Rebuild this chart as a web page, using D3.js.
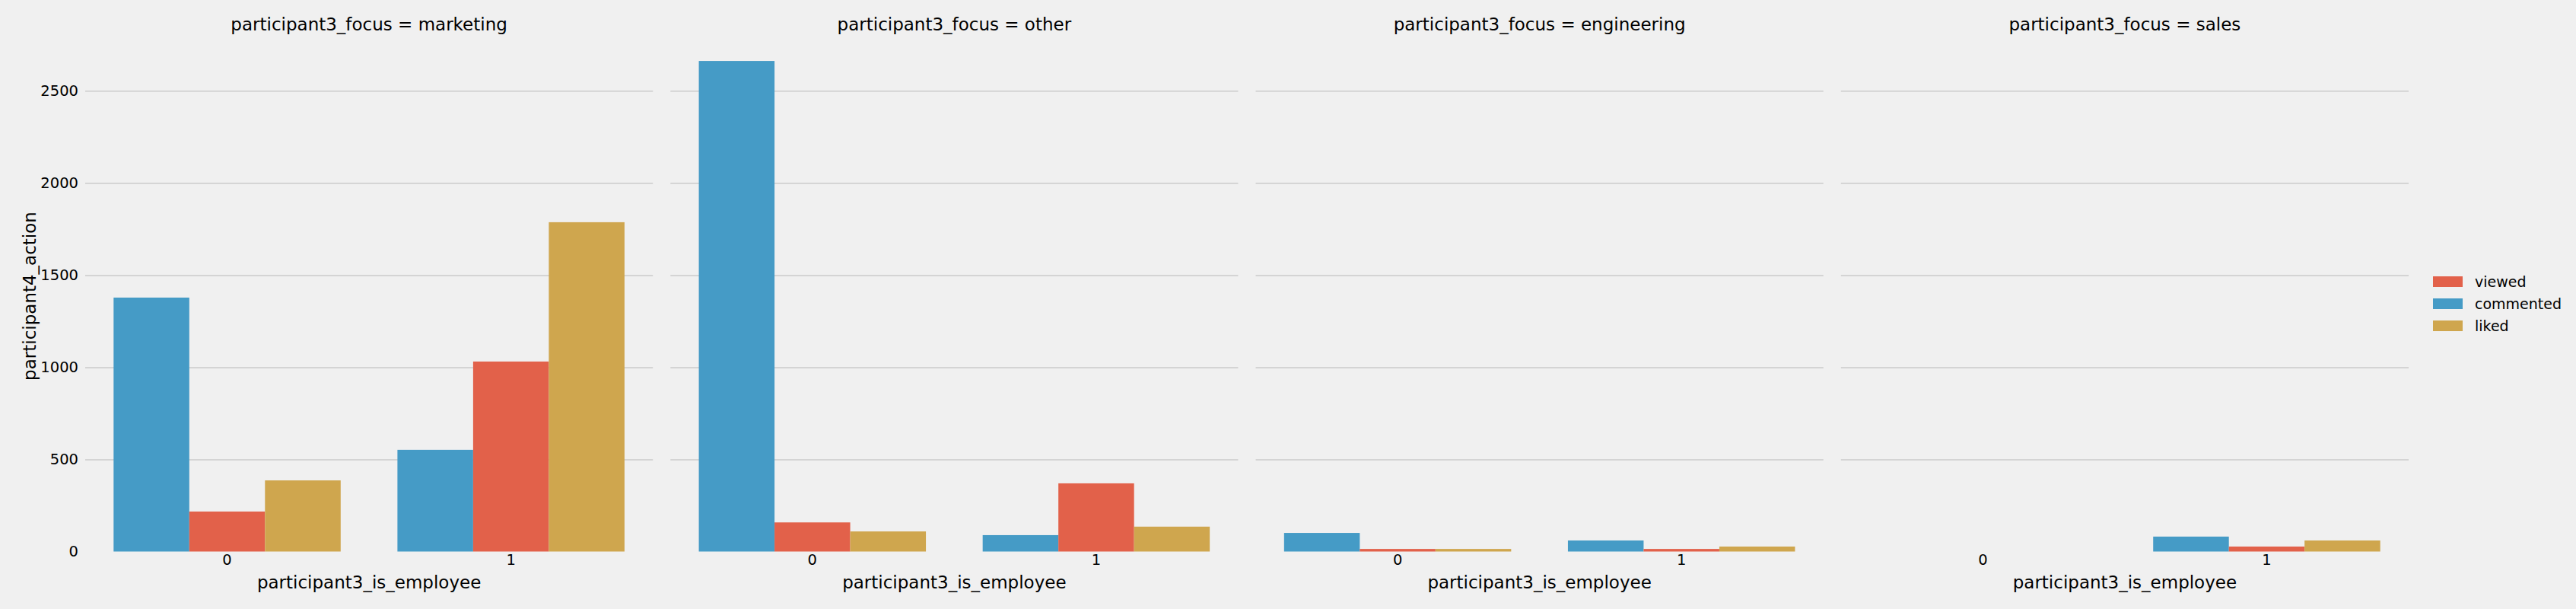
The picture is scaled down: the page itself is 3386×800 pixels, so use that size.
<!DOCTYPE html>
<html>
<head>
<meta charset="utf-8">
<script src="https://cdn.jsdelivr.net/npm/d3@7"></script>
<style>
  html, body { margin: 0; padding: 0; background: #f0f0f0; }
  svg { display: block; font-family: "DejaVu Sans", sans-serif; }
</style>
</head>
<body>
<div id="chart"></div>
<script>
// facets, categories and hue levels
const facets = ['marketing', 'other', 'engineering', 'sales'];
const employeeCats = ['0', '1'];
const barOrder = ['commented', 'viewed', 'liked'];
const legendOrder = ['viewed', 'commented', 'liked'];
const yTicks = [500, 1000, 1500, 2000, 2500];

// values per facet, [is_employee=0, is_employee=1]; null = no bar
const commented = { marketing: [1378, 552], other: [2662, 89], engineering: [101, 60], sales: [null, 81] };
const viewed    = { marketing: [217, 1031], other: [158, 370], engineering: [14, 14], sales: [null, 27] };
const liked     = { marketing: [386, 1787], other: [109, 135], engineering: [14, 27], sales: [null, 60] };

const series = { commented, viewed, liked };
const colors = { viewed: '#e2614a', commented: '#459bc6', liked: '#cfa64e' };

const W = 3386, H = 800;
const svg = d3.select('#chart').append('svg').attr('width', W).attr('height', H);
svg.append('rect').attr('width', W).attr('height', H).attr('fill', '#f0f0f0');

const fx = d3.scaleBand().domain(facets).range([112, 3166]).paddingInner(0.03).paddingOuter(0);
const pw = fx.bandwidth();
const y = d3.scaleLinear().domain([0, 2500]).range([724.5, 119.3]);
const x = d3.scaleBand().domain(employeeCats).range([0, pw]).padding(0);
const hx = d3.scaleBand().domain(barOrder).range([x.bandwidth() * 0.1, x.bandwidth() * 0.9]);

facets.forEach((f, i) => {
  const g = svg.append('g').attr('transform', `translate(${fx(f)},0)`);

  // grid
  const grid = g.append('g').call(d3.axisLeft(y).tickValues(yTicks).tickSize(-pw).tickFormat(''));
  grid.select('.domain').remove();
  grid.selectAll('line').attr('stroke', '#cbcbcb').attr('stroke-width', 1.5);

  // y tick labels on first panel only
  if (i === 0) {
    const ya = g.append('g').call(d3.axisLeft(y).tickValues([0].concat(yTicks))
      .tickFormat(d3.format('d')).tickSize(0).tickPadding(9));
    ya.select('.domain').remove();
    ya.selectAll('text').attr('font-size', 19.5).attr('fill', '#000').attr('font-family', 'DejaVu Sans');
  }

  // bars
  employeeCats.forEach((c, ci) => {
    barOrder.forEach(h => {
      const v = series[h][f][ci];
      if (v == null) return;
      g.append('rect')
        .attr('x', x(c) + hx(h))
        .attr('width', hx.bandwidth())
        .attr('y', y(v))
        .attr('height', y(0) - y(v))
        .attr('fill', colors[h]);
    });
  });

  // x axis
  const xa = g.append('g').attr('transform', `translate(0,${y(0)})`)
    .call(d3.axisBottom(x).tickSize(0).tickPadding(4));
  xa.select('.domain').remove();
  xa.selectAll('text').attr('font-size', 19.5).attr('fill', '#000').attr('font-family', 'DejaVu Sans');

  g.append('text').attr('x', pw / 2).attr('y', 773).attr('text-anchor', 'middle')
    .attr('font-size', 23).text('participant3_is_employee');

  g.append('text').attr('x', pw / 2).attr('y', 40).attr('text-anchor', 'middle')
    .attr('font-size', 23).text(`participant3_focus = ${f}`);
});

// y label
svg.append('text').attr('transform', 'translate(47,389) rotate(-90)')
  .attr('text-anchor', 'middle').attr('font-size', 23).text('participant4_action');

// legend
const leg = svg.append('g').attr('transform', 'translate(3198,363)');
legendOrder.forEach((k, i) => {
  const row = leg.append('g').attr('transform', `translate(0,${i * 29})`);
  row.append('rect').attr('width', 39).attr('height', 14).attr('fill', colors[k]);
  row.append('text').attr('x', 55).attr('y', 7).attr('dy', '0.35em')
    .attr('font-size', 19).text(k);
});
</script>
</body>
</html>
